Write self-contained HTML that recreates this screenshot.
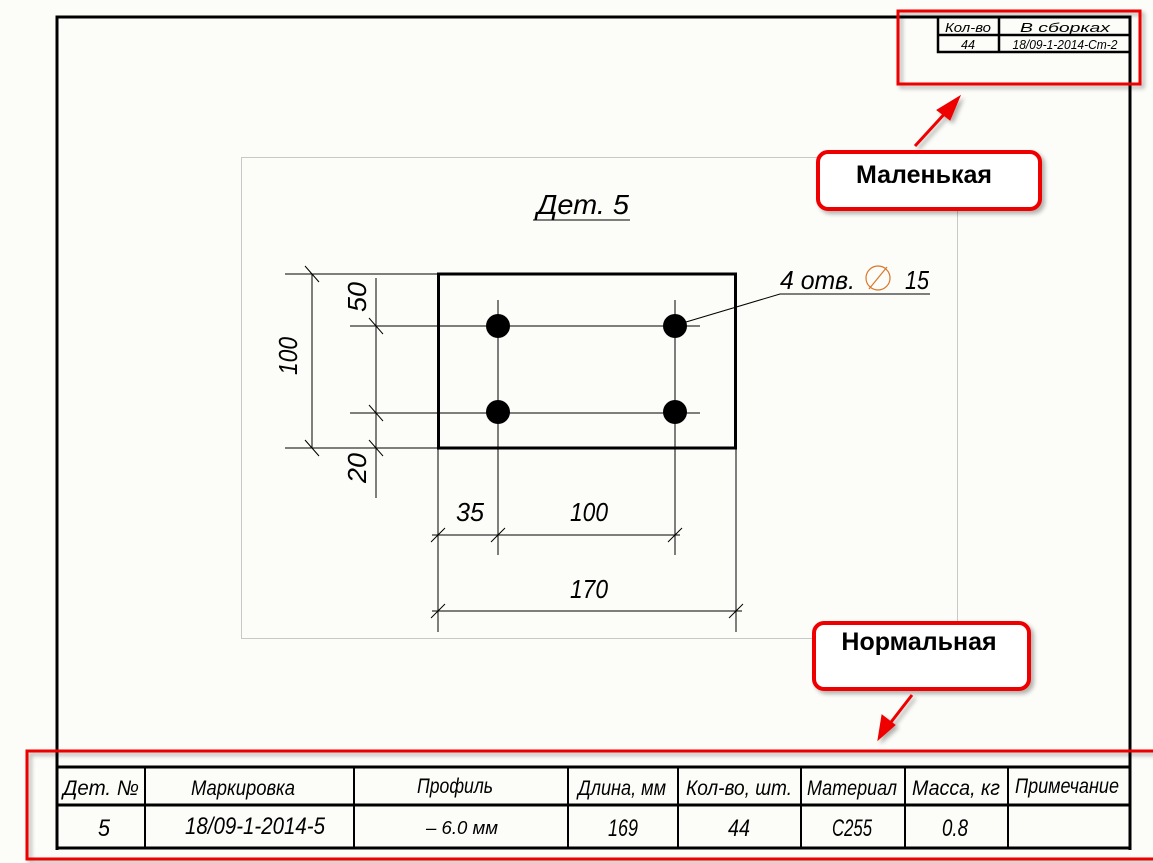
<!DOCTYPE html>
<html><head><meta charset="utf-8"><style>
html,body{margin:0;padding:0;background:#fcfcf8;}
svg{display:block;}
.t{font-family:"Liberation Sans","DejaVu Sans",sans-serif;font-style:italic;fill:#000;}
.b{font-family:"Liberation Sans","DejaVu Sans",sans-serif;font-weight:bold;fill:#000;}
</style></head><body>
<svg width="1153" height="863" viewBox="0 0 1153 863" xmlns="http://www.w3.org/2000/svg">
<defs><filter id="sh" x="-10%" y="-10%" width="130%" height="140%"><feDropShadow dx="3" dy="3" stdDeviation="2" flood-color="#000" flood-opacity="0.3"/></filter></defs>
<rect width="1153" height="863" fill="#fcfcf8"/>
<path d="M57 850 V17 H1130 V850" fill="none" stroke="#000" stroke-width="3"/>
<rect x="241.5" y="157.5" width="716" height="481" fill="none" stroke="#c8c8c8" stroke-width="1"/>
<text class="t" x="583" y="214" font-size="28" text-anchor="middle" textLength="92" lengthAdjust="spacingAndGlyphs">Дет.  5</text>
<line x1="533" y1="220" x2="630" y2="220" stroke="#000" stroke-width="1"/>
<rect x="438.5" y="274" width="297" height="174" fill="none" stroke="#000" stroke-width="3"/>
<g stroke="#000" stroke-width="1" fill="none">
<line x1="350" y1="326" x2="700" y2="326"/>
<line x1="350" y1="413" x2="700" y2="413"/>
<line x1="498" y1="300" x2="498" y2="555"/>
<line x1="675" y1="300" x2="675" y2="555"/>
<line x1="285" y1="274" x2="438" y2="274"/>
<line x1="285" y1="448" x2="438" y2="448"/>
<line x1="312" y1="274" x2="312" y2="448"/>
<line x1="376" y1="278" x2="376" y2="498"/>
<line x1="438" y1="448" x2="438" y2="632"/>
<line x1="736" y1="448" x2="736" y2="632"/>
<line x1="432" y1="535" x2="680" y2="535"/>
<line x1="432" y1="611" x2="742" y2="611"/>
<line x1="305" y1="266" x2="319" y2="282"/>
<line x1="305" y1="440" x2="319" y2="456"/>
<line x1="369" y1="318" x2="383" y2="334"/>
<line x1="369" y1="405" x2="383" y2="421"/>
<line x1="369" y1="440" x2="383" y2="456"/>
<line x1="431" y1="542" x2="445" y2="528"/>
<line x1="491" y1="542" x2="505" y2="528"/>
<line x1="668" y1="542" x2="682" y2="528"/>
<line x1="431" y1="618" x2="445" y2="604"/>
<line x1="729" y1="618" x2="743" y2="604"/>
<polyline points="686,322 780,294 930,294"/>
</g>
<g fill="#000">
<ellipse cx="498" cy="326" rx="12" ry="12"/>
<ellipse cx="675" cy="326" rx="12" ry="12"/>
<ellipse cx="498" cy="412" rx="12" ry="12"/>
<ellipse cx="675" cy="412" rx="12" ry="12"/>
</g>
<text class="t" x="780" y="289" font-size="26" textLength="75" lengthAdjust="spacingAndGlyphs">4 отв.</text>
<circle cx="878" cy="278" r="12" fill="none" stroke="#d9782a" stroke-width="1.2"/>
<line x1="869" y1="289" x2="887" y2="267" stroke="#d9782a" stroke-width="1.2"/>
<text class="t" x="905" y="289" font-size="26" textLength="24" lengthAdjust="spacingAndGlyphs">15</text>
<text class="t" transform="translate(297,356) rotate(-90)" font-size="26" text-anchor="middle" textLength="38" lengthAdjust="spacingAndGlyphs">100</text>
<text class="t" transform="translate(366,297) rotate(-90)" font-size="26" text-anchor="middle" textLength="30" lengthAdjust="spacingAndGlyphs">50</text>
<text class="t" transform="translate(366,468) rotate(-90)" font-size="26" text-anchor="middle" textLength="30" lengthAdjust="spacingAndGlyphs">20</text>
<text class="t" x="470" y="521" font-size="26" text-anchor="middle" textLength="28" lengthAdjust="spacingAndGlyphs">35</text>
<text class="t" x="589" y="521" font-size="26" text-anchor="middle" textLength="38" lengthAdjust="spacingAndGlyphs">100</text>
<text class="t" x="589" y="598" font-size="26" text-anchor="middle" textLength="38" lengthAdjust="spacingAndGlyphs">170</text>
<g stroke="#000" stroke-width="2.5" fill="none">
<path d="M938 18 V52 H1130"/>
<line x1="938" y1="35" x2="1130" y2="35"/>
<line x1="999" y1="18" x2="999" y2="52"/>
</g>
<text class="t" x="968" y="32" font-size="13" text-anchor="middle" textLength="46" lengthAdjust="spacingAndGlyphs">Кол-во</text>
<text class="t" x="1065" y="32" font-size="13" text-anchor="middle" textLength="90" lengthAdjust="spacingAndGlyphs">В сборках</text>
<text class="t" x="968" y="49" font-size="13" text-anchor="middle" textLength="14" lengthAdjust="spacingAndGlyphs">44</text>
<text class="t" x="1065" y="49" font-size="13" text-anchor="middle" textLength="105" lengthAdjust="spacingAndGlyphs">18/09-1-2014-Ст-2</text>
<g stroke="#000" fill="none">
<line x1="57" y1="767" x2="1130" y2="767" stroke-width="3"/>
<line x1="57" y1="805" x2="1130" y2="805" stroke-width="3"/>
<line x1="57" y1="848" x2="1130" y2="848" stroke-width="3"/>
<line x1="57" y1="767" x2="57" y2="848" stroke-width="3"/>
<line x1="1130" y1="767" x2="1130" y2="848" stroke-width="3"/>
<g stroke-width="2">
<line x1="145" y1="767" x2="145" y2="848"/>
<line x1="354" y1="767" x2="354" y2="848"/>
<line x1="568" y1="767" x2="568" y2="848"/>
<line x1="678" y1="767" x2="678" y2="848"/>
<line x1="801" y1="767" x2="801" y2="848"/>
<line x1="905" y1="767" x2="905" y2="848"/>
<line x1="1008" y1="767" x2="1008" y2="848"/>
</g>
</g>
<g class="t" font-size="21" text-anchor="middle">
<text x="101" y="795" textLength="76" lengthAdjust="spacingAndGlyphs">Дет. №</text>
<text x="243" y="795" textLength="104" lengthAdjust="spacingAndGlyphs">Маркировка</text>
<text x="455" y="793" textLength="76" lengthAdjust="spacingAndGlyphs">Профиль</text>
<text x="622" y="795" textLength="88" lengthAdjust="spacingAndGlyphs">Длина, мм</text>
<text x="739" y="795" textLength="106" lengthAdjust="spacingAndGlyphs">Кол-во, шт.</text>
<text x="852" y="795" textLength="90" lengthAdjust="spacingAndGlyphs">Материал</text>
<text x="956" y="795" textLength="88" lengthAdjust="spacingAndGlyphs">Масса, кг</text>
<text x="1067" y="793" textLength="104" lengthAdjust="spacingAndGlyphs">Примечание</text>
<text x="104" y="836" font-size="24" textLength="12" lengthAdjust="spacingAndGlyphs">5</text>
<text x="255" y="834" font-size="24" textLength="140" lengthAdjust="spacingAndGlyphs">18/09-1-2014-5</text>
<text x="462" y="834" font-size="18" textLength="72" lengthAdjust="spacingAndGlyphs">– 6.0 мм</text>
<text x="623" y="836" font-size="24" textLength="30" lengthAdjust="spacingAndGlyphs">169</text>
<text x="739" y="836" font-size="24" textLength="22" lengthAdjust="spacingAndGlyphs">44</text>
<text x="852" y="836" font-size="24" textLength="40" lengthAdjust="spacingAndGlyphs">С255</text>
<text x="955" y="836" font-size="24" textLength="26" lengthAdjust="spacingAndGlyphs">0.8</text>
</g>
<g filter="url(#sh)">
<rect x="898" y="11" width="242" height="73" fill="none" stroke="#e00" stroke-width="3"/>
<rect x="27" y="751" width="1135" height="108" fill="none" stroke="#e00" stroke-width="3"/>
<rect x="818" y="152" width="222" height="57" rx="10" fill="#fff" stroke="#e00" stroke-width="4"/>
<rect x="814" y="623" width="215" height="66" rx="10" fill="#fff" stroke="#e00" stroke-width="4"/>
<g stroke="#e00" stroke-width="3" fill="#e00">
<line x1="915" y1="146" x2="948" y2="110"/>
<polygon points="960,96 937,110 950,120" stroke-width="1"/>
<line x1="912" y1="695" x2="888" y2="726"/>
<polygon points="878,740 882,715 895,725" stroke-width="1"/>
</g>
</g>
<text class="b" x="924" y="183" font-size="25" text-anchor="middle">Маленькая</text>
<text class="b" x="919" y="650" font-size="25" text-anchor="middle">Нормальная</text>
</svg>
</body></html>
